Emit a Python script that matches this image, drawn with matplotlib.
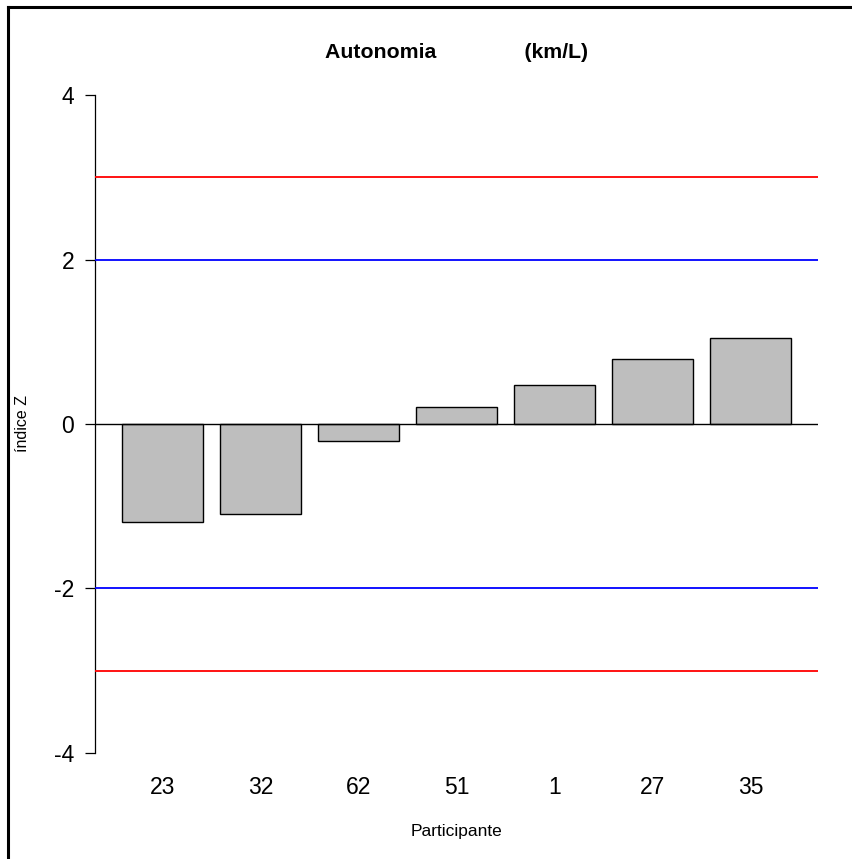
#!/usr/bin/env python3
"""Z-score bar chart per participant (Autonomia km/L)."""
import matplotlib
matplotlib.use("Agg")
import matplotlib.pyplot as plt
from matplotlib.lines import Line2D

plt.rcParams['font.family'] = ['Liberation Sans', 'DejaVu Sans']

# data
participants = ["23", "32", "62", "51", "1", "27", "35"]
z_scores = [-1.19, -1.09, -0.21, 0.21, 0.47, 0.79, 1.05]
limits_red = [3, -3]
limits_blue = [2, -2]
y_ticks = [-4, -2, 0, 2, 4]

fig = plt.figure(figsize=(8.53, 8.59), dpi=100)
W, H = 853, 859
ax = fig.add_axes([95 / W, 1 - 779 / H, (818 - 95) / W, (779 - 69) / H])

# R barplot geometry: width 1, space 0.2
centers = [0.7 + 1.2 * i for i in range(len(z_scores))]
ax.bar(centers, z_scores, width=1.0, color='#bebebe', edgecolor='black',
       linewidth=1.0, zorder=2)

for y in limits_red:
    ax.axhline(y, color='red', linewidth=1.3, zorder=3)
for y in limits_blue:
    ax.axhline(y, color='blue', linewidth=1.3, zorder=3)
ax.axhline(0, color='black', linewidth=1.0, zorder=3)

ax.set_xlim(0.2 - 0.328, 8.4 + 0.328)
ax.set_ylim(-4.32, 4.32)

for side in ['top', 'right', 'bottom']:
    ax.spines[side].set_visible(False)
ax.spines['left'].set_bounds(-4, 4)
ax.spines['left'].set_linewidth(0.9)
ax.set_yticks(y_ticks)
ax.set_yticklabels([str(t) for t in y_ticks])
ax.tick_params(axis='y', length=7, width=0.9, pad=8, labelsize=16.5)
ax.set_xticks(centers)
ax.set_xticklabels(participants)
ax.tick_params(axis='x', length=0, pad=-2, labelsize=16.5)

ax.set_xlabel('Participante', fontsize=12.5, labelpad=18)
ax.set_ylabel('índice Z', fontsize=11.5)
ax.yaxis.set_label_coords(-65 / 723, 0.5)
ax.set_title('Autonomia               (km/L)', fontsize=15.3, fontweight='bold', pad=8)

# frame visible on left and top edges
fig.add_artist(Line2D([8 / W, 8 / W], [0, 1 - 7 / H], transform=fig.transFigure,
                      color='black', linewidth=2.2))
fig.add_artist(Line2D([8 / W, 1], [1 - 7 / H, 1 - 7 / H], transform=fig.transFigure,
                      color='black', linewidth=2.2))

plt.savefig('out.png', dpi=100)
